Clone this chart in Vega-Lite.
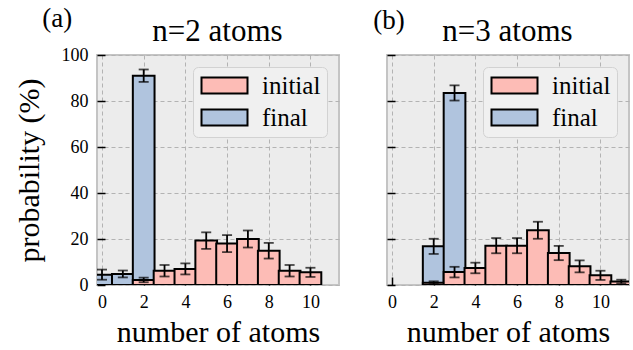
{
  "$schema": "https://vega.github.io/schema/vega-lite/v6.json",
  "autosize": "none",
  "padding": {"left": 97, "top": 55, "right": 536, "bottom": 295},
  "background": "white",
  "datasets": {
    "hist": [
      {"panel": "a", "series": "final", "n": 0, "p": 4.5, "err": 2.2},
      {"panel": "a", "series": "final", "n": 1, "p": 4.8, "err": 1.5},
      {"panel": "a", "series": "final", "n": 2, "p": 91.0, "err": 2.7},
      {"panel": "a", "series": "initial", "n": 2, "p": 2.2, "err": 1.0},
      {"panel": "a", "series": "initial", "n": 3, "p": 6.2, "err": 2.5},
      {"panel": "a", "series": "initial", "n": 4, "p": 7.0, "err": 2.4},
      {"panel": "a", "series": "initial", "n": 5, "p": 19.3, "err": 3.6},
      {"panel": "a", "series": "initial", "n": 6, "p": 18.0, "err": 3.7},
      {"panel": "a", "series": "initial", "n": 7, "p": 20.0, "err": 3.7},
      {"panel": "a", "series": "initial", "n": 8, "p": 14.9, "err": 3.4},
      {"panel": "a", "series": "initial", "n": 9, "p": 6.2, "err": 2.5},
      {"panel": "a", "series": "initial", "n": 10, "p": 5.5, "err": 2.0},
      {"panel": "b", "series": "final", "n": 2, "p": 16.8, "err": 3.3},
      {"panel": "b", "series": "final", "n": 3, "p": 83.5, "err": 3.3},
      {"panel": "b", "series": "initial", "n": 2, "p": 1.0, "err": 0.6},
      {"panel": "b", "series": "initial", "n": 3, "p": 5.6, "err": 2.3},
      {"panel": "b", "series": "initial", "n": 4, "p": 7.4, "err": 2.3},
      {"panel": "b", "series": "initial", "n": 5, "p": 17.1, "err": 3.3},
      {"panel": "b", "series": "initial", "n": 6, "p": 17.1, "err": 3.3},
      {"panel": "b", "series": "initial", "n": 7, "p": 23.8, "err": 3.7},
      {"panel": "b", "series": "initial", "n": 8, "p": 13.9, "err": 3.1},
      {"panel": "b", "series": "initial", "n": 9, "p": 8.1, "err": 2.6},
      {"panel": "b", "series": "initial", "n": 10, "p": 4.2, "err": 2.0},
      {"panel": "b", "series": "initial", "n": 11, "p": 1.5, "err": 0.8}
    ],
    "labels_a": [
      {"label": "(a)", "lx": -2.15, "ly": 115.8, "size": "small"},
      {"label": "n=2 atoms", "lx": 5.54, "ly": 110.0, "size": "big"}
    ],
    "labels_b": [
      {"label": "(b)", "lx": -0.14, "ly": 115.0, "size": "small"},
      {"label": "n=3 atoms", "lx": 5.54, "ly": 110.0, "size": "big"}
    ]
  },
  "config": {
    "font": "Liberation Serif, DejaVu Serif, serif",
    "view": {"fill": "#ECECEC", "stroke": "#C4C4C4", "strokeWidth": 2},
    "axis": {
      "grid": true, "gridColor": "#B3B3B3", "gridDash": [4, 3], "gridWidth": 1,
      "domain": false, "ticks": true, "tickColor": "black", "tickSize": -8, "tickWidth": 1.5,
      "labelFontSize": 18, "labelColor": "black", "labelFont": "Liberation Serif, DejaVu Serif, serif",
      "titleFontSize": 30, "titleFontWeight": "normal", "titleColor": "black", "titleFont": "Liberation Serif, DejaVu Serif, serif"
    },
    "text": {"font": "Liberation Serif, DejaVu Serif, serif"},
    "legend": {
      "orient": "top-right", "offset": 12, "title": null,
      "labelFontSize": 25, "labelFont": "Liberation Serif, DejaVu Serif, serif", "labelColor": "black",
      "symbolType": "M-2.3,-0.8H2.3V0.8H-2.3Z", "symbolSize": 400,
      "symbolStrokeColor": "black", "symbolStrokeWidth": 2, "symbolOpacity": 1,
      "fillColor": "#F0F0F0", "strokeColor": "#D2D2D2", "cornerRadius": 5,
      "padding": 6, "rowPadding": 6, "symbolOffset": 13, "labelOffset": 25
    }
  },
  "hconcat": [
    {
      "width": 242, "height": 230,
      "layer": [
        {
          "data": {"name": "hist"},
          "transform": [{"filter": "datum.panel == 'a' && datum.series == 'final'"}],
          "mark": {"type": "bar", "width": 21.7, "stroke": "black", "strokeWidth": 2, "clip": true},
          "encoding": {
            "x": {"field": "n", "type": "quantitative", "title": "number of atoms", "scale": {"domain": [0, 11.13], "nice": false, "zero": false},
                  "axis": {"values": [0, 2, 4, 6, 8, 10], "labelFlush": false, "labelPadding": 16, "titlePadding": 6}},
            "y": {"field": "p", "type": "quantitative", "title": "probability (%)", "scale": {"domain": [0, 100], "nice": false},
                  "axis": {"values": [0, 20, 40, 60, 80, 100], "labelPadding": 17, "titlePadding": 17}},
            "color": {"field": "series", "type": "nominal", "scale": {"domain": ["initial", "final"], "range": ["#FDBCB6", "#B0C4DE"]}}
          }
        },
        {
          "data": {"name": "hist"},
          "transform": [{"filter": "datum.panel == 'a' && datum.series == 'initial'"}],
          "mark": {"type": "bar", "width": 21.7, "stroke": "black", "strokeWidth": 2, "clip": true},
          "encoding": {
            "x": {"field": "n", "type": "quantitative", "title": "number of atoms"},
            "y": {"field": "p", "type": "quantitative", "title": "probability (%)"},
            "color": {"field": "series", "type": "nominal"}
          }
        },
        {
          "data": {"name": "hist"},
          "transform": [{"filter": "datum.panel == 'a'"}],
          "mark": {"type": "errorbar", "color": "black", "thickness": 1.8, "ticks": {"size": 10, "thickness": 1.8, "color": "black"}, "clip": true},
          "encoding": {
            "x": {"field": "n", "type": "quantitative", "title": "number of atoms"},
            "y": {"field": "p", "type": "quantitative", "title": "probability (%)"},
            "yError": {"field": "err"}
          }
        },
        {
          "data": {"name": "labels_a"},
          "mark": {"type": "text", "color": "black", "align": "center", "baseline": "middle"},
          "encoding": {
            "x": {"field": "lx", "type": "quantitative", "title": "number of atoms"},
            "y": {"field": "ly", "type": "quantitative", "title": "probability (%)"},
            "text": {"field": "label"},
            "size": {"field": "size", "type": "nominal", "scale": {"domain": ["small", "big"], "range": [27, 31]}, "legend": null}
          }
        }
      ]
    },
    {
      "width": 242, "height": 230,
      "layer": [
        {
          "data": {"name": "hist"},
          "transform": [{"filter": "datum.panel == 'b' && datum.series == 'final'"}],
          "mark": {"type": "bar", "width": 21.7, "stroke": "black", "strokeWidth": 2, "clip": true},
          "encoding": {
            "x": {"field": "n", "type": "quantitative", "title": "number of atoms", "scale": {"domain": [0, 11.13], "nice": false, "zero": false},
                  "axis": {"values": [0, 2, 4, 6, 8, 10], "labelFlush": false, "labelPadding": 16, "titlePadding": 6}},
            "y": {"field": "p", "type": "quantitative", "title": null, "scale": {"domain": [0, 100], "nice": false},
                  "axis": {"values": [0, 20, 40, 60, 80, 100], "labels": false}},
            "color": {"field": "series", "type": "nominal", "scale": {"domain": ["initial", "final"], "range": ["#FDBCB6", "#B0C4DE"]}}
          }
        },
        {
          "data": {"name": "hist"},
          "transform": [{"filter": "datum.panel == 'b' && datum.series == 'initial'"}],
          "mark": {"type": "bar", "width": 21.7, "stroke": "black", "strokeWidth": 2, "clip": true},
          "encoding": {
            "x": {"field": "n", "type": "quantitative", "title": "number of atoms"},
            "y": {"field": "p", "type": "quantitative", "title": null},
            "color": {"field": "series", "type": "nominal"}
          }
        },
        {
          "data": {"name": "hist"},
          "transform": [{"filter": "datum.panel == 'b'"}],
          "mark": {"type": "errorbar", "color": "black", "thickness": 1.8, "ticks": {"size": 10, "thickness": 1.8, "color": "black"}, "clip": true},
          "encoding": {
            "x": {"field": "n", "type": "quantitative", "title": "number of atoms"},
            "y": {"field": "p", "type": "quantitative", "title": null},
            "yError": {"field": "err"}
          }
        },
        {
          "data": {"name": "labels_b"},
          "mark": {"type": "text", "color": "black", "align": "center", "baseline": "middle"},
          "encoding": {
            "x": {"field": "lx", "type": "quantitative", "title": "number of atoms"},
            "y": {"field": "ly", "type": "quantitative", "title": null},
            "text": {"field": "label"},
            "size": {"field": "size", "type": "nominal", "scale": {"domain": ["small", "big"], "range": [27, 31]}, "legend": null}
          }
        }
      ]
    }
  ],
  "spacing": 48,
  "bounds": "flush",
  "resolve": {"legend": {"color": "independent"}, "scale": {"size": "independent"}}
}
